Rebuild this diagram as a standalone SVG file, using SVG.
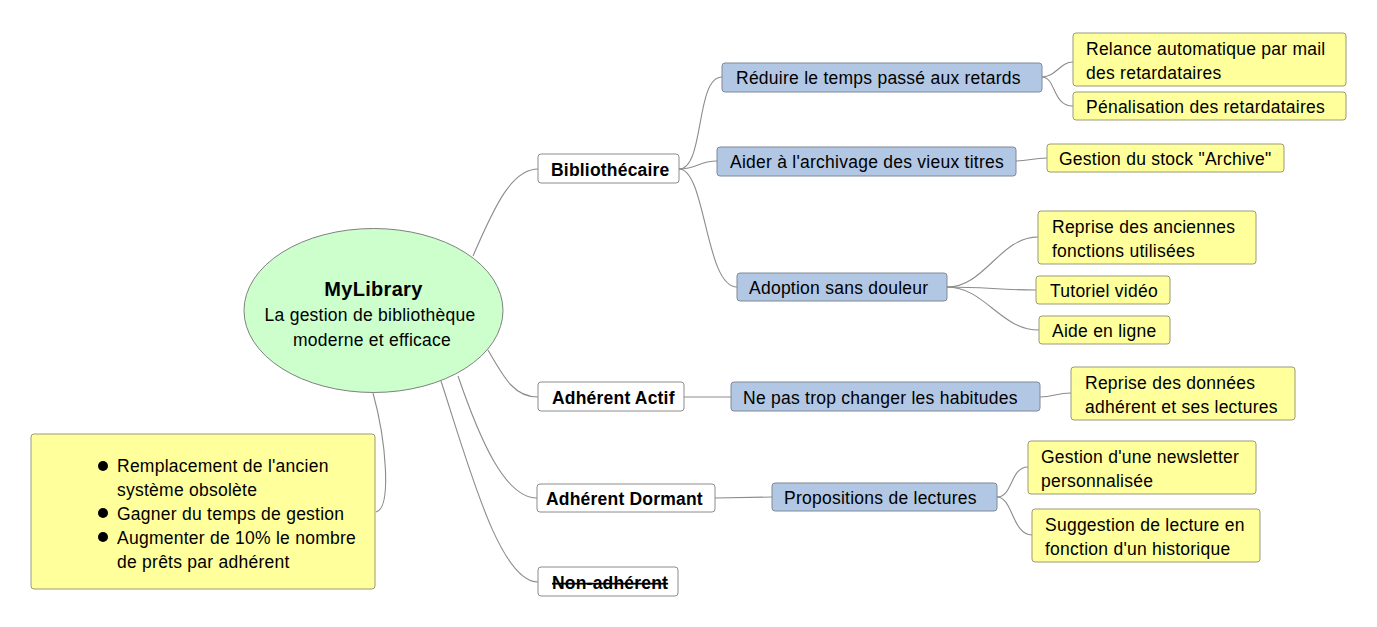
<svg xmlns="http://www.w3.org/2000/svg" width="1377" height="627" viewBox="0 0 1377 627">
<style>
.bg{fill:#ffffff}
.conn path{fill:none;stroke:#8c8c8c;stroke-width:1.1}
.l1{fill:#ffffff;stroke:#8c8c8c;stroke-width:1}
.l2{fill:#b2c7e3;stroke:#7f8a96;stroke-width:1}
.l3{fill:#ffff9c;stroke:#9a9a7a;stroke-width:1}
.root{fill:#ccffcc;stroke:#808080;stroke-width:1}
text{font-family:"Liberation Sans",Arial,sans-serif;fill:#000}
.t{font-size:17.5px;letter-spacing:0.25px}
.b{font-size:17.5px;font-weight:bold;letter-spacing:0.2px}
.title{font-size:20px;font-weight:bold;letter-spacing:0.3px}
</style>
<rect class="bg" x="0" y="0" width="1377" height="627"/>
<g id="connectors" class="conn">
<path d="M373,393 C386,440 392,508 376,512"/>
<path d="M473,256 C495,205 512,169 538,169"/>
<path d="M488,350 C505,380 515,397 538,397"/>
<path d="M458,376 C480,440 505,498 537,498"/>
<path d="M441,381 C470,470 500,582 538,582"/>
<path d="M679,169 C705,169 695,77 722,77"/>
<path d="M679,169 C698,169 698,161 717,161"/>
<path d="M679,169 C706,169 705,287 737,287"/>
<path d="M684,397 L731,397"/>
<path d="M715,498 L772,497"/>
<path d="M1042,77 C1056,77 1060,62 1073,62"/>
<path d="M1042,77 C1056,77 1052,106 1073,106"/>
<path d="M1016,161 C1030,161 1032,158 1047,158"/>
<path d="M947,287 C985,287 1000,237 1038,237"/>
<path d="M947,287 C985,287 1000,290 1036,290"/>
<path d="M947,287 C985,287 1000,330 1039,330"/>
<path d="M1040,397 C1054,397 1056,393 1071,393"/>
<path d="M997,497 C1013,497 1010,467 1028,467"/>
<path d="M997,497 C1013,497 1012,535 1032,535"/>
</g>
<g id="root">
<ellipse class="root" cx="373.5" cy="310.5" rx="129.5" ry="82"/>
<text class="title" x="373.5" y="296" text-anchor="middle">MyLibrary</text>
<text class="t" x="370" y="321" text-anchor="middle">La gestion de bibliothèque</text>
<text class="t" x="372" y="346" text-anchor="middle">moderne et efficace</text>
</g>
<g id="note">
<rect class="l3" x="31" y="434" width="344" height="155" rx="3"/>
<circle cx="103" cy="466" r="5"/>
<circle cx="103" cy="513" r="5"/>
<circle cx="103" cy="537" r="5"/>
<text class="t" x="117" y="472">Remplacement de l'ancien</text>
<text class="t" x="117" y="496">système obsolète</text>
<text class="t" x="117" y="520">Gagner du temps de gestion</text>
<text class="t" x="117" y="544">Augmenter de 10% le nombre</text>
<text class="t" x="117" y="568">de prêts par adhérent</text>
</g>
<g id="bibliothecaire">
<rect class="l1" x="538" y="154" width="141" height="29" rx="3"/>
<text class="b" x="551" y="176">Bibliothécaire</text>
</g>
<g id="adherent-actif">
<rect class="l1" x="538" y="382" width="146" height="29" rx="3"/>
<text class="b" x="552" y="404">Adhérent Actif</text>
</g>
<g id="adherent-dormant">
<rect class="l1" x="537" y="484" width="178" height="28" rx="3"/>
<text class="b" x="546" y="505">Adhérent Dormant</text>
</g>
<g id="non-adherent">
<rect class="l1" x="538" y="567" width="140" height="29" rx="3"/>
<text class="b" x="552" y="589" text-decoration="line-through">Non-adhérent</text>
</g>
<g id="reduire">
<rect class="l2" x="722" y="63" width="320" height="29" rx="3"/>
<text class="t" x="736" y="84">Réduire le temps passé aux retards</text>
</g>
<g id="aider">
<rect class="l2" x="717" y="147" width="299" height="29" rx="3"/>
<text class="t" x="730" y="168">Aider à l'archivage des vieux titres</text>
</g>
<g id="adoption">
<rect class="l2" x="737" y="273" width="210" height="28" rx="3"/>
<text class="t" x="749" y="294">Adoption sans douleur</text>
</g>
<g id="ne-pas">
<rect class="l2" x="731" y="382" width="309" height="29" rx="3"/>
<text class="t" x="743" y="404">Ne pas trop changer les habitudes</text>
</g>
<g id="propositions">
<rect class="l2" x="772" y="483" width="225" height="28" rx="3"/>
<text class="t" x="784" y="504">Propositions de lectures</text>
</g>
<g id="relance">
<rect class="l3" x="1073" y="33" width="273" height="53" rx="3"/>
<text class="t" x="1086" y="55">Relance automatique par mail</text>
<text class="t" x="1086" y="79">des retardataires</text>
</g>
<g id="penalisation">
<rect class="l3" x="1073" y="92" width="273" height="28" rx="3"/>
<text class="t" x="1086" y="113">Pénalisation des retardataires</text>
</g>
<g id="stock">
<rect class="l3" x="1047" y="144" width="237" height="28" rx="3"/>
<text class="t" x="1059" y="165">Gestion du stock "Archive"</text>
</g>
<g id="reprise-fonctions">
<rect class="l3" x="1038" y="211" width="218" height="53" rx="3"/>
<text class="t" x="1052" y="233">Reprise des anciennes</text>
<text class="t" x="1052" y="257">fonctions utilisées</text>
</g>
<g id="tutoriel">
<rect class="l3" x="1036" y="276" width="134" height="28" rx="3"/>
<text class="t" x="1050" y="297">Tutoriel vidéo</text>
</g>
<g id="aide">
<rect class="l3" x="1039" y="316" width="131" height="28" rx="3"/>
<text class="t" x="1052" y="337">Aide en ligne</text>
</g>
<g id="reprise-donnees">
<rect class="l3" x="1071" y="367" width="224" height="53" rx="3"/>
<text class="t" x="1085" y="389">Reprise des données</text>
<text class="t" x="1085" y="413">adhérent et ses lectures</text>
</g>
<g id="newsletter">
<rect class="l3" x="1028" y="441" width="228" height="53" rx="3"/>
<text class="t" x="1041" y="463">Gestion d'une newsletter</text>
<text class="t" x="1041" y="487">personnalisée</text>
</g>
<g id="suggestion">
<rect class="l3" x="1032" y="509" width="228" height="53" rx="3"/>
<text class="t" x="1045" y="531">Suggestion de lecture en</text>
<text class="t" x="1045" y="555">fonction d'un historique</text>
</g>
</svg>
